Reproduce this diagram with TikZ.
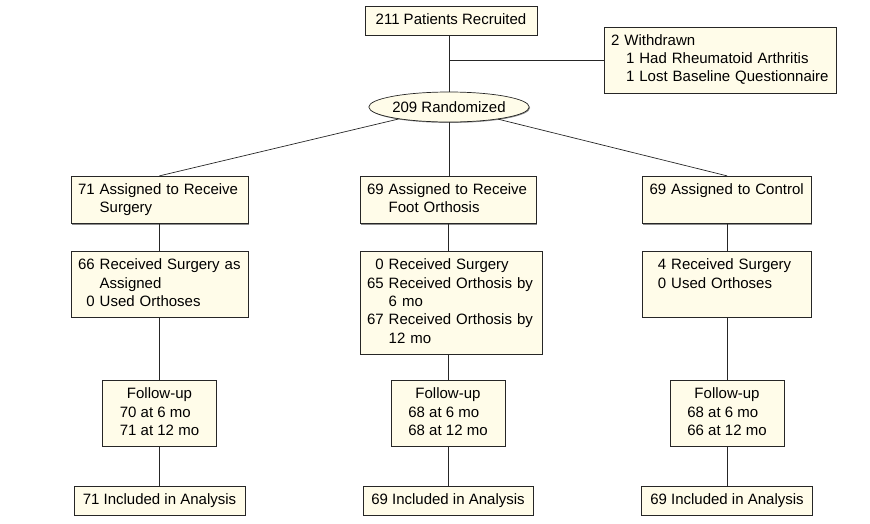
\documentclass[tikz,border=0pt]{standalone}
\usepackage{fontspec}
\setmainfont{Liberation Sans}
\usetikzlibrary{shapes.geometric,positioning,shadows}
\definecolor{boxfill}{HTML}{FFFCE9}

\begin{document}
\begin{tikzpicture}[
  x=1pt, y=1pt,
  node distance=27pt,
  box/.style={
    rectangle, draw=black!85, fill=boxfill, line width=0.7pt,
    drop shadow={shadow xshift=0.9pt, shadow yshift=-0.9pt,
      fill=black!45, opacity=1},
    inner xsep=7pt, inner ysep=5.5pt, align=left,
    font=\fontsize{15}{18.3}\selectfont},
  single/.style={box, align=center},
  follow/.style={box, align=center, minimum width=114pt},
  oval/.style={
    ellipse, draw=black!85, fill=boxfill, line width=0.7pt,
    drop shadow={shadow xshift=0.9pt, shadow yshift=-0.9pt,
      fill=black!45, opacity=1},
    minimum width=150pt, minimum height=30pt, inner sep=0pt,
    font=\fontsize{15}{18.3}\selectfont},
  link/.style={draw=black!85, line width=0.7pt},
]
  \useasboundingbox (0,0) rectangle (870,-523);

  \node[single, minimum width=172pt] (recruit) at (451,-20.5)
      {211 Patients Recruited\strut};
  \node[box, text width=218pt] (withdrawn) at (720,-60)
      {\begin{tabular}{@{}l@{}}
         2 Withdrawn\\
         \hspace*{15pt}1 Had Rheumatoid Arthritis\\
         \hspace*{15pt}1 Lost Baseline Questionnaire
       \end{tabular}};
  \node[oval] (random) at (449,-107) {209 Randomized};

  \node[box, text width=163pt] (assignS) at (159.5,-200)
      {\begin{tabular}{@{}r@{\ }l@{}}
         71 & Assigned to Receive\\
            & Surgery
       \end{tabular}};
  \node[box, text width=162pt] (assignO) at (448,-200)
      {\begin{tabular}{@{}r@{\ }l@{}}
         69 & Assigned to Receive\\
            & Foot Orthosis
       \end{tabular}};
  \node[box, text width=155pt] (assignC) at (727,-200)
      {\begin{tabular}{@{}r@{\ }l@{}}
         69 & Assigned to Control\\
            &
       \end{tabular}};

  \node[box, text width=163pt, below=of assignS] (recvS)
      {\begin{tabular}{@{}r@{\ }l@{}}
         66 & Received Surgery as\\
            & Assigned\\
          0 & Used Orthoses
       \end{tabular}};
  \node[box, text width=168pt, below=of assignO, xshift=3pt] (recvO)
      {\begin{tabular}{@{}r@{\ }l@{}}
          0 & Received Surgery\\
         65 & Received Orthosis by\\
            & 6 mo\\
         67 & Received Orthosis by\\
            & 12 mo
       \end{tabular}};
  \node[box, text width=155pt, below=of assignC] (recvC)
      {\begin{tabular}{@{}r@{\ }l@{}}
         \phantom{0}4 & Received Surgery\\
         \phantom{0}0 & Used Orthoses\\
                      &
       \end{tabular}};

  \node[follow] (followS) at (159.5,-413.5)
      {\begin{tabular}{@{}l@{}}
         \multicolumn{1}{@{}c@{}}{Follow-up}\\
         70 at 6 mo\\
         71 at 12 mo
       \end{tabular}};
  \node[follow] (followO) at (448,-413.5)
      {\begin{tabular}{@{}l@{}}
         \multicolumn{1}{@{}c@{}}{Follow-up}\\
         68 at 6 mo\\
         68 at 12 mo
       \end{tabular}};
  \node[follow] (followC) at (727,-413.5)
      {\begin{tabular}{@{}l@{}}
         \multicolumn{1}{@{}c@{}}{Follow-up}\\
         68 at 6 mo\\
         66 at 12 mo
       \end{tabular}};

  \node[single, minimum width=171pt, below=39pt of followS] (analysisS)
      {71 Included in Analysis\strut};
  \node[single, minimum width=170pt, below=39pt of followO] (analysisO)
      {69 Included in Analysis\strut};
  \node[single, minimum width=171pt, below=39pt of followC] (analysisC)
      {69 Included in Analysis\strut};

  \draw[link] (recruit.south -| random) -- (random);
  \draw[link] (withdrawn.west) -- (withdrawn.west -| random);
  \draw[link] (random) -- (assignS.north);
  \draw[link] (random.south) -- (random.south |- assignO.north);
  \draw[link] (random) -- (assignC.north);

  \draw[link] (assignS) -- (recvS);
  \draw[link] (recvS) -- (followS);
  \draw[link] (followS) -- (analysisS);

  \draw[link] (assignO.south) -- (assignO.south |- recvO.north);
  \draw[link] (recvO.south -| followO) -- (followO.north);
  \draw[link] (followO) -- (analysisO);

  \draw[link] (assignC) -- (recvC);
  \draw[link] (recvC) -- (followC);
  \draw[link] (followC) -- (analysisC);
\end{tikzpicture}
\end{document}
